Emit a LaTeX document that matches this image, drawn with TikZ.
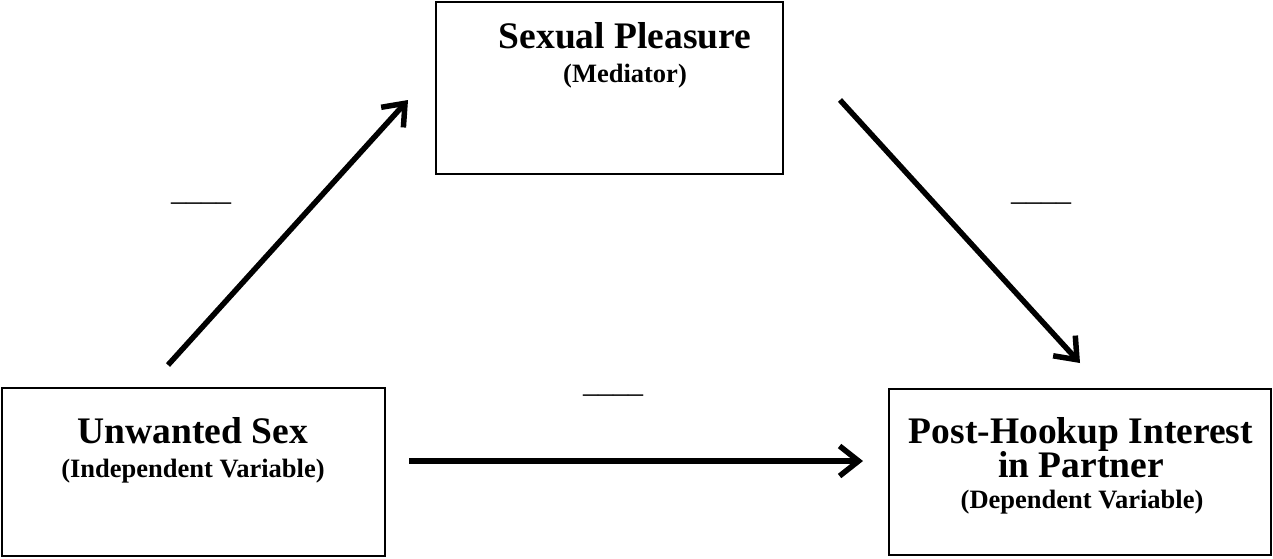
\documentclass[tikz,border=0pt]{standalone}
\usepackage{fontspec}
\setmainfont{Liberation Serif}
\usetikzlibrary{arrows.meta}
\begin{document}
\begin{tikzpicture}[x=1pt,y=-1pt,
  box/.style={draw, line width=2pt, outer sep=0pt, inner sep=0pt, rectangle},
  maintxt/.style={anchor=base, inner sep=0pt, font=\fontsize{37.5}{40}\selectfont\bfseries},
  subtxt/.style={anchor=base, inner sep=0pt, font=\fontsize{26.5}{30}\selectfont\bfseries},
  coef/.style={anchor=base, inner sep=0pt, font=\fontsize{30}{32}\selectfont},
  link/.style={line width=5.5pt, -{Straight Barb[length=19pt,width=30pt]}}]
\useasboundingbox (0,0) rectangle (1273,558);
% boxes
\node[box, minimum width=383pt, minimum height=168pt] (iv) at (193.5,472) {};
\node[box, minimum width=347pt, minimum height=172pt] (med) at (609,88) {};
\node[box, minimum width=382pt, minimum height=166pt] (dv) at (1080,472) {};
% texts
\node[maintxt] (ivt1) at (193,443) {Unwanted Sex};
\node[subtxt] (ivt2) at (193,477) {(Independent Variable)};
\node[maintxt] (medt1) at (625,48) {Sexual Pleasure};
\node[subtxt] (medt2) at (625,82) {(Mediator)};
\node[maintxt] (dvt1) at (1081,443) {Post-Hookup Interest};
\node[maintxt] (dvt2) at (1081,477) {in Partner};
\node[subtxt] (dvt3) at (1082,508) {(Dependent Variable)};
% coefficient placeholders
\node[coef] (ca) at (201,200) {\_\_\_\_};
\node[coef] (cc) at (613,392) {\_\_\_\_};
\node[coef] (cb) at (1041,200) {\_\_\_\_};
% connectors
\draw[link] ([shift={(-25.5,-23)}]iv.north) -- ([shift={(-27.5,12)}]med.west);
\draw[link] ([shift={(57.5,12)}]med.east) -- ([shift={(0,-26)}]dv.north);
\draw[link] ([shift={(24,-11)}]iv.east) -- ([shift={(-26,-11)}]dv.west);
\end{tikzpicture}
\end{document}
